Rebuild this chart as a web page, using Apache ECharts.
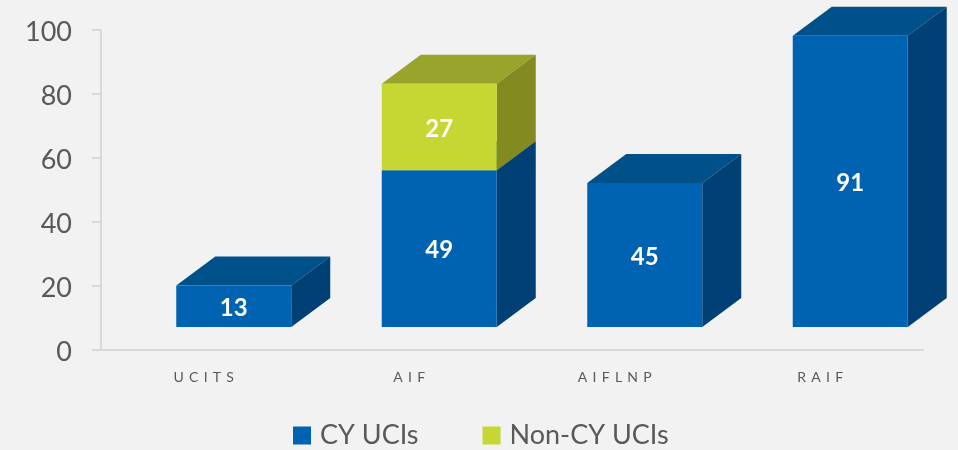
<!DOCTYPE html>
<html>
<head>
<meta charset="utf-8">
<style>
  html,body{margin:0;padding:0;background:#f2f2f2}
  #chart{width:958px;height:450px}
</style>
<script src="https://cdn.jsdelivr.net/npm/echarts@6/dist/echarts.min.js"></script>
</head>
<body>
<div id="chart"></div>
<script>
// data
const categories = ['UCITS', 'AIF', 'AIFLNP', 'RAIF'];
const cyUcis = [13, 49, 45, 91];
const nonCyUcis = [null, 27, null, null];
const yTicks = { min: 0, max: 100, interval: 20 };

// look of the fake 3d boxes, in px
const BAR_W = 115, DEPTH_X = 39, DEPTH_Y = 29, LIFT = 23, SHIFT_X = 30;
const textColor = '#595959', axisColor = '#d9d9d9';
const blue = { front: '#0063b1', top: '#005089', side: '#004074' };
const green = { front: '#c6d733', top: '#98a42b', side: '#828a20' };

function box(colors) {
  return function (params, api) {
    const base = api.value(1), val = api.value(2);
    const p0 = api.coord([api.value(0), base]);
    const p1 = api.coord([api.value(0), base + val]);
    const l = p0[0] + SHIFT_X - BAR_W / 2, r = l + BAR_W;
    const b = p0[1] - LIFT, t = p1[1] - LIFT;
    const poly = (points, fill) => ({ type: 'polygon', shape: { points }, style: { fill } });
    return {
      type: 'group',
      children: [
        poly([[l, t], [l + DEPTH_X, t - DEPTH_Y], [r + DEPTH_X, t - DEPTH_Y], [r, t]], colors.top),
        poly([[r, t], [r + DEPTH_X, t - DEPTH_Y], [r + DEPTH_X, b - DEPTH_Y], [r, b]], colors.side),
        poly([[l, t], [r, t], [r, b], [l, b]], colors.front),
        {
          type: 'text',
          style: {
            x: (l + r) / 2, y: (t + b) / 2 + 2, text: String(val),
            fill: '#fff', font: 'bold 24px Lato', textAlign: 'center', textVerticalAlign: 'middle'
          }
        }
      ]
    };
  };
}

const cyData = cyUcis.map((v, i) => [i, 0, v]);
const nonCyData = nonCyUcis
  .map((v, i) => [i, cyUcis[i], v])
  .filter(d => d[2] !== null);

const chart = echarts.init(document.getElementById('chart'));
chart.setOption({
  animation: false,
  backgroundColor: '#f2f2f2',
  textStyle: { fontFamily: 'Lato' },
  grid: { left: 101, top: 30, width: 822, height: 320 },
  legend: {
    left: 288, top: 417,
    itemWidth: 18, itemHeight: 18, itemGap: 64,
    icon: 'rect',
    textStyle: { color: textColor, fontSize: 27, fontFamily: 'Lato', padding: [0, 0, 0, 4] },
    data: ['CY UCIs', 'Non-CY UCIs']
  },
  xAxis: {
    type: 'category',
    data: categories,
    axisLine: { lineStyle: { color: axisColor, width: 2 } },
    axisTick: { show: false },
    axisLabel: {
      margin: 20, color: textColor, fontSize: 14,
      formatter: v => v.split('').join('\u2009\u2009\u2009')
    }
  },
  yAxis: {
    type: 'value',
    min: yTicks.min, max: yTicks.max, interval: yTicks.interval,
    axisLine: { show: true, lineStyle: { color: axisColor, width: 2 } },
    axisTick: { show: true, length: 9, lineStyle: { color: axisColor, width: 2 } },
    axisLabel: {
      margin: 29,
      formatter: '{v|{value}}',
      rich: { v: { color: textColor, fontSize: 27, fontFamily: 'Lato', padding: [4, 0, 0, 0] } },
      verticalAlignMinLabel: 'middle', verticalAlignMaxLabel: 'middle'
    },
    splitLine: { show: false }
  },
  series: [
    {
      name: 'CY UCIs', type: 'custom', renderItem: box(blue),
      itemStyle: { color: blue.front }, encode: { x: 0, y: [1, 2] }, data: cyData, clip: false
    },
    {
      name: 'Non-CY UCIs', type: 'custom', renderItem: box(green),
      itemStyle: { color: green.front }, encode: { x: 0, y: [1, 2] }, data: nonCyData, clip: false
    }
  ]
});
</script>
</body>
</html>
